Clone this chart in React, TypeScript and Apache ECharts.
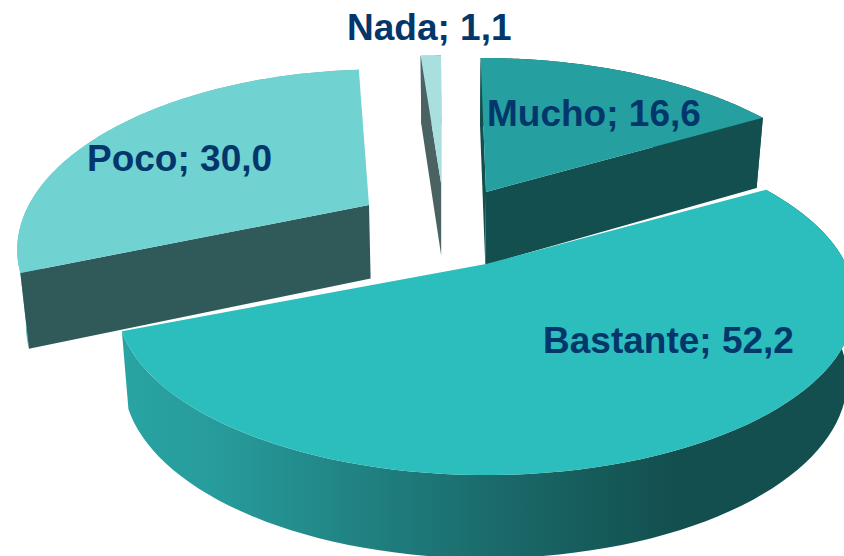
import React, { useEffect, useRef } from "react";
import * as echarts from "echarts";

const categories = ["Mucho", "Bastante", "Poco", "Nada"];
const values = [16.6, 52.2, 30.0, 1.1];

const FONT = "'Liberation Sans', Arial, sans-serif";
const A = 360, B = 164, K = 0.223;

const layout: Record<string, any> = {
  Mucho: { ax: 486, ay: 192, sa: 1, sb: 1, shear: 0.04, top: "#259f9f", stops: ["#144f4f", "#144f4f", "#144f4f"], cut: "#144f4f", z: 1, lx: 487, ly: 113 },
  Bastante: { ax: 486, ay: 264, sa: 1, sb: 1, shear: 0, top: "#2cbdbd", stops: ["#2aa9a9", "#1b6b6b", "#134f4f"], cut: "#144f4f", z: 4, lx: 543, ly: 340 },
  Poco: { ax: 369, ay: 205, sa: 0.945, sb: 1.01, shear: -0.067, top: "#70d3d1", stops: ["#5cc0be", "#4aa09e", "#305a5a"], cut: "#305a5a", z: 2, lx: 87, ly: 158 },
  Nada: { ax: 441, ay: 183, sa: 1, sb: 0.95, shear: 0, top: "#aadfdf", stops: ["#4a6362", "#4a6362", "#4a6362"], cut: "#4a6362", z: 3, lx: 347, ly: 27 },
};

const total = values.reduce((a, b) => a + b, 0);

function rim(L: any, t: number): number[] {
  const w = 1 + K * Math.cos(t);
  const y = (-B * L.sb * Math.cos(t)) / w;
  const x = (A * L.sa * Math.sin(t)) / w + L.shear * y;
  return [L.ax + x, L.ay + y];
}
function drop(p: number[]): number[] {
  return [p[0] + (450 - p[0]) * 0.02, p[1] + 66 + 0.036 * p[1]];
}

function renderItem(params: any, api: any) {
  const i = params.dataIndex;
  const name = categories[i];
  const L = layout[name];
  let before = 0;
  for (let j = 0; j < i; j++) before += values[j];
  const t1 = (before / total) * 2 * Math.PI;
  const t2 = ((before + api.value(0)) / total) * 2 * Math.PI;
  const n = 90;
  const arc: number[][] = [];
  for (let s = 0; s <= n; s++) arc.push(rim(L, t1 + ((t2 - t1) * s) / n));
  const apex = [L.ax, L.ay];
  const low = arc.map(drop);
  const children: any[] = [];
  children.push({
    type: "polygon",
    z2: L.z,
    shape: { points: [...arc, ...low.slice().reverse()] },
    style: {
      fill: new echarts.graphic.LinearGradient(
        0, 0, 844, 0,
        [
          { offset: 0, color: name === "Bastante" ? "#2cadad" : L.stops[0] },
          { offset: 0.25, color: name === "Bastante" ? "#279c9c" : L.stops[0] },
          { offset: 0.58, color: name === "Bastante" ? L.stops[1] : L.stops[1] },
          { offset: 0.8, color: L.stops[2] },
          { offset: 1, color: L.stops[2] },
        ],
        true
      ),
    },
  });
  const mid = rim(L, (t1 + t2) / 2);
  const interior = [mid[0] - apex[0], mid[1] - apex[1]];
  for (const end of [arc[0], arc[n]]) {
    const e = [end[0] - apex[0], end[1] - apex[1]];
    const d = drop(end);
    const down = [d[0] - end[0], d[1] - end[1]];
    const c1 = e[0] * down[1] - e[1] * down[0];
    const c2 = e[0] * interior[1] - e[1] * interior[0];
    if (c1 * c2 < 0) {
      children.push({
        type: "polygon",
        z2: L.z,
        shape: { points: [apex, end, d, drop(apex)] },
        style: { fill: L.cut },
      });
    }
  }
  children.push({
    type: "polygon",
    z2: L.z,
    shape: { points: [apex, ...arc] },
    style: { fill: L.top },
  });
  children.push({
    type: "text",
    z2: 100,
    style: {
      x: L.lx,
      y: L.ly,
      text: `${name}; ${api.value(0).toFixed(1).replace(".", ",")}`,
      font: `bold 37px ${FONT}`,
      fill: "#03376b",
      align: "left",
      verticalAlign: "middle",
    },
  });
  return { type: "group", children };
}

export default function App() {
  const ref = useRef<HTMLDivElement>(null);
  useEffect(() => {
    document.body.style.margin = "0";
    const chart = echarts.init(ref.current!, undefined, { renderer: "svg" });
    chart.setOption({
      animation: false,
      backgroundColor: "#ffffff",
      series: [
        {
          type: "custom",
          coordinateSystem: "none",
          renderItem,
          data: values.map((v, i) => ({ name: categories[i], value: [v] })),
          silent: true,
        },
      ],
    });
    return () => chart.dispose();
  }, []);
  return <div ref={ref} style={{ position: "absolute", left: 0, top: 0, width: 844, height: 556 }} />;
}
